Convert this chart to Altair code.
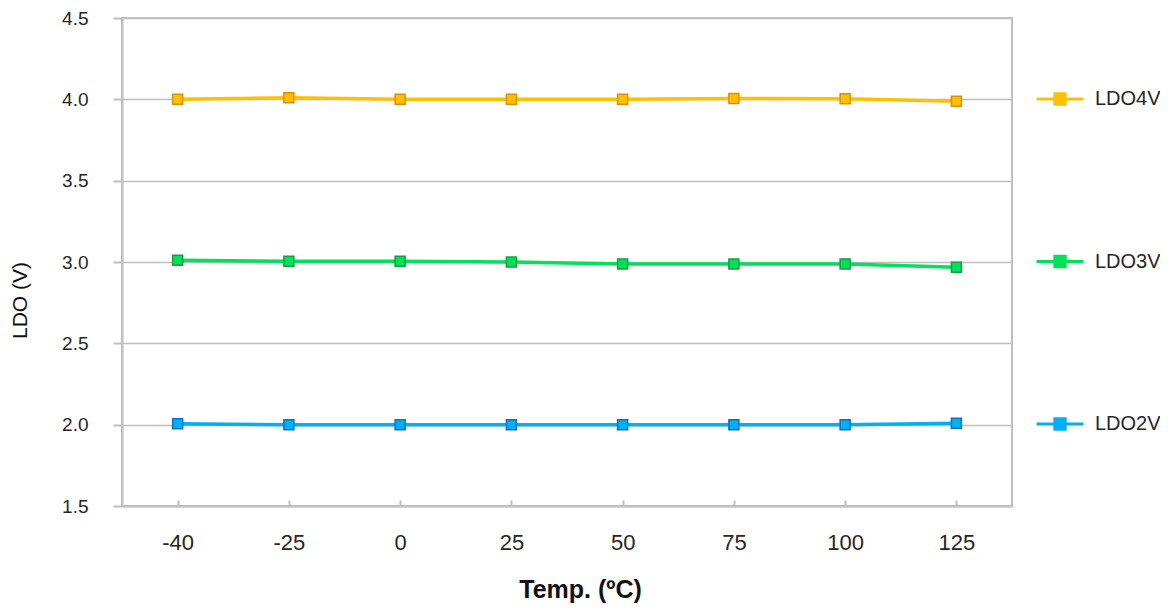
import altair as alt
import pandas as pd

# ---- data ----
temps = ["-40", "-25", "0", "25", "50", "75", "100", "125"]
series = ["LDO4V", "LDO3V", "LDO2V"]
ldo4v = [4.000, 4.010, 4.000, 4.000, 4.000, 4.005, 4.004, 3.988]
ldo3v = [3.010, 3.005, 3.005, 3.000, 2.988, 2.988, 2.988, 2.968]
ldo2v = [2.005, 2.000, 2.000, 2.000, 2.000, 2.000, 2.000, 2.008]
y_ticks = [1.5, 2.0, 2.5, 3.0, 3.5, 4.0, 4.5]

line_colors = ["#FFC000", "#00E05A", "#00B0F0"]
marker_edges = ["#E08E00", "#1A9C40", "#0B72C4"]

rows = []
for name, vals in zip(series, [ldo4v, ldo3v, ldo2v]):
    for t, v in zip(temps, vals):
        rows.append({"temp": t, "series": name, "ldo": v})
df = pd.DataFrame(rows)
ticks_df = pd.DataFrame({"temp": temps})

W, H = 890, 488
FONT = "Liberation Sans, Arial, sans-serif"
GRID = "#BFBFBF"
TXT = "#262626"

x_scale = alt.Scale(type="point", padding=0.5)
y_scale = alt.Scale(domain=[1.5, 4.5], nice=False, zero=False)
color_scale = alt.Scale(domain=series, range=line_colors)
stroke_scale = alt.Scale(domain=series, range=marker_edges)

legend = alt.Legend(
    title=None, orient="none", legendX=913, legendY=56,
    symbolType="M-1,0H1M-0.22,-0.22H0.22V0.22H-0.22Z",
    symbolSize=2209, symbolStrokeWidth=3, symbolOpacity=1,
    labelFontSize=20, labelFont=FONT, labelColor=TXT,
    labelOffset=10, rowPadding=125.5, padding=0,
)

x_bottom = alt.X(
    "temp:N", sort=temps, scale=x_scale,
    axis=alt.Axis(
        title="Temp. (ºC)", labelAngle=0, ticks=False, tickSize=0,
        domainColor=GRID, domainWidth=2, grid=False,
        labelFontSize=22, labelFont=FONT, labelColor=TXT, labelPadding=26,
        titleFontSize=25, titleFont=FONT, titleFontWeight="bold", titleColor="#111111",
        titleX=458, titleY=71,
    ),
)

y_enc = alt.Y(
    "ldo:Q", scale=y_scale,
    axis=alt.Axis(
        title="LDO (V)", values=y_ticks, format=".1f",
        tickSize=9, tickColor=GRID, tickWidth=2,
        domainColor=GRID, domainWidth=2,
        gridColor=GRID, gridWidth=1.5,
        labelFontSize=19, labelFont=FONT, labelColor=TXT, labelPadding=25,
        titleFontSize=21, titleFont=FONT, titleFontWeight="normal", titleColor="#111111",
        titleX=-92, titleY=282,
    ),
)

lines = alt.Chart(df).mark_line(strokeWidth=3.5).encode(
    x=x_bottom,
    y=y_enc,
    color=alt.Color("series:N", scale=color_scale, legend=legend),
)

points = alt.Chart(df).mark_point(
    shape="square", filled=True, size=100, strokeWidth=1.5, opacity=1
).encode(
    x=alt.X("temp:N", sort=temps, scale=x_scale, axis=None),
    y=alt.Y("ldo:Q", scale=y_scale),
    color=alt.Color("series:N", scale=color_scale, legend=legend),
    stroke=alt.Stroke("series:N", scale=stroke_scale, legend=None),
)

inner_ticks = alt.Chart(ticks_df).mark_rule(opacity=0).encode(
    x=alt.X(
        "temp:N", sort=temps, scale=x_scale,
        axis=alt.Axis(
            orient="top", offset=-H, labels=False, title=None, domain=False,
            ticks=True, tickSize=6, tickColor=GRID, tickWidth=2, grid=False,
        ),
    ),
)

chart = (
    alt.layer(lines, points, inner_ticks)
    .resolve_axis(x="independent")
    .properties(
        width=W, height=H,
        autosize=alt.AutoSizeParams(type="none"),
        padding={"left": 114, "top": 10, "right": 148, "bottom": 100},
        background="white",
    )
    .configure_view(stroke=GRID, strokeWidth=2)
)

chart.save("out.html", embed_options={"renderer": "svg", "actions": False})
